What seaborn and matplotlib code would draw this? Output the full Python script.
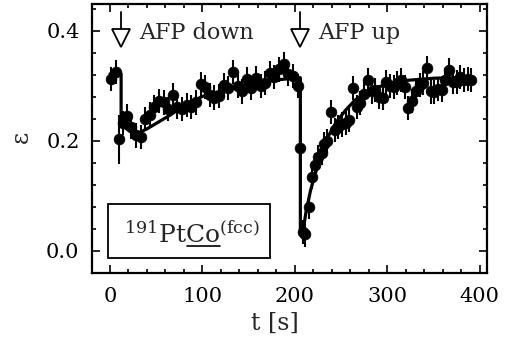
import numpy as np
import pandas as pd
import matplotlib
matplotlib.use("Agg")
import matplotlib.pyplot as plt
from matplotlib.ticker import MultipleLocator
from matplotlib.patches import Rectangle
import seaborn as sns

# ---- data ----
t_data = [1, 6, 10, 14, 18, 23, 28, 33, 38, 43, 48, 53, 58, 63, 68, 73, 78, 83, 88, 93,
          98, 103, 108, 113, 118, 123, 128, 133, 138, 143, 148, 153, 158, 163, 168, 173,
          178, 183, 188, 193, 198, 203, 206,
          209, 211, 215, 219, 222, 225, 229, 232, 235, 239, 243, 247, 251, 255, 259, 263,
          267, 271, 275, 279, 283, 287, 291, 295, 299, 303, 307, 311, 315, 319, 323, 327,
          331, 335, 339, 343, 347, 351, 355, 359, 363, 367, 371, 375, 379, 383, 387, 391]
eps_data = [0.312, 0.326, 0.203, 0.232, 0.245, 0.225, 0.210, 0.207, 0.240, 0.248, 0.262,
            0.272, 0.270, 0.258, 0.283, 0.262, 0.258, 0.266, 0.262, 0.270, 0.303, 0.298,
            0.284, 0.279, 0.282, 0.302, 0.296, 0.326, 0.300, 0.290, 0.312, 0.296, 0.314,
            0.300, 0.306, 0.324, 0.316, 0.330, 0.340, 0.322, 0.318, 0.300, 0.187,
            0.035, 0.030, 0.080, 0.135, 0.156, 0.171, 0.178, 0.195, 0.200, 0.253, 0.220,
            0.225, 0.230, 0.233, 0.238, 0.296, 0.262, 0.269, 0.285, 0.311, 0.290, 0.293,
            0.280, 0.278, 0.307, 0.300, 0.298, 0.305, 0.311, 0.298, 0.260, 0.272, 0.290,
            0.302, 0.305, 0.333, 0.290, 0.289, 0.295, 0.293, 0.310, 0.329, 0.308, 0.307,
            0.316, 0.311, 0.313, 0.311]
eps_err = [0.022] * len(t_data)
eps_err[2] = 0.045

fit_t = [0, 12, 12, 16, 22, 30, 40, 50, 65, 80, 100, 120, 140, 160, 180, 205, 206,
         206, 208, 212, 217, 222, 228, 235, 245, 255, 265, 280, 300, 320, 350, 392]
fit_eps = [0.322, 0.322, 0.232, 0.224, 0.218, 0.214, 0.222, 0.232, 0.247, 0.264, 0.281,
           0.291, 0.299, 0.306, 0.311, 0.315, 0.315,
           0.030, 0.025, 0.070, 0.110, 0.140, 0.170, 0.205, 0.235, 0.256, 0.274, 0.291,
           0.304, 0.310, 0.314, 0.316]

event_t = [12, 206]
event_labels = ["AFP down", "AFP up"]

x_ticks = [0, 100, 200, 300, 400]
y_ticks = [0.0, 0.2, 0.4]

df = pd.DataFrame({"t": t_data, "eps": eps_data, "err": eps_err})
fit_df = pd.DataFrame({"t": fit_t, "eps": fit_eps})

# ---- style ----
sns.set_theme(style="ticks")
plt.rcParams["font.family"] = ["DejaVu Serif"]
plt.rcParams["mathtext.fontset"] = "dejavuserif"

fig = plt.figure(figsize=(5.05, 3.43), dpi=100)
ax = fig.add_axes([92/505, 1-273/343, 395/505, 269/343])

ax.errorbar(df["t"], df["eps"], yerr=df["err"], fmt="none", ecolor="black",
            elinewidth=1.5, capsize=0, zorder=2)
sns.scatterplot(data=df, x="t", y="eps", ax=ax, color="black", s=60,
                edgecolor="black", linewidth=0.5, zorder=3, legend=False)
sns.lineplot(data=fit_df, x="t", y="eps", ax=ax, color="black", lw=2.3,
             sort=False, estimator=None, zorder=4)

ax.set_xlim(-19.5, 408)
ax.set_ylim(-0.04, 0.449)
ax.set_xticks(x_ticks)
ax.set_xticklabels([str(v) for v in x_ticks])
ax.set_yticks(y_ticks)
ax.set_yticklabels([f"{v:.1f}" for v in y_ticks])
ax.xaxis.set_minor_locator(MultipleLocator(20))
ax.yaxis.set_minor_locator(MultipleLocator(0.04))
ax.tick_params(which="both", direction="in", top=True, right=True, colors="black",
               width=1.2, labelsize=15)
ax.tick_params(which="major", length=6)
ax.tick_params(which="minor", length=3)
ax.tick_params(axis="x", pad=10)
ax.tick_params(axis="y", pad=9)
for s in ax.spines.values():
    s.set_linewidth(1.6)
    s.set_color("black")

ax.set_xlabel("t [s]", fontsize=17)
ax.xaxis.set_label_coords(0.462, -0.145)
ax.set_ylabel("")
fig.text(21/505, 1-137/343, "ε", rotation=90, ha="center", va="center", fontsize=17)

# event arrows
for te, lab in zip(event_t, event_labels):
    ax.plot([te, te], [0.434, 0.398], color="black", lw=1.3, zorder=5)
    ax.plot([te], [0.387], marker="v", ms=13, mfc="white", mec="black", mew=1.3,
            zorder=6)
    ax.annotate(lab, xy=(te, 0.396), xytext=(13, 0), textcoords="offset points",
                ha="left", va="center", fontsize=16)

# sample label box
ax.add_patch(Rectangle((0.0405, 0.0558), 0.41, 0.2007, transform=ax.transAxes,
                       fill=False, ec="black", lw=1.3, zorder=6))
lab_x, lab_y = 0.080, 0.112
fs_lab = 18
full = r"$^{191}\mathrm{PtCo}^{(\mathrm{fcc})}$"
t_full = ax.text(lab_x, lab_y, full, transform=ax.transAxes, fontsize=fs_lab,
                 ha="left", va="baseline")
fig.canvas.draw()
r = fig.canvas.get_renderer()
def width_px(s):
    tt = ax.text(0, 0, s, fontsize=fs_lab, transform=ax.transAxes)
    w = tt.get_window_extent(r).width
    tt.remove()
    return w
w_pre = width_px(r"$^{191}\mathrm{Pt}$")
w_co = width_px(r"$^{191}\mathrm{PtCo}$")
ext = t_full.get_window_extent(r)
x0 = ext.x0 + w_pre
x1 = ext.x0 + w_co
inv = ax.transAxes.inverted()
(ax0, _) = inv.transform((x0, 0))
(ax1, _) = inv.transform((x1, 0))
ax.plot([ax0, ax1], [lab_y - 0.013, lab_y - 0.013], transform=ax.transAxes,
        color="black", lw=1.2)

fig.savefig("out.png", dpi=100)
